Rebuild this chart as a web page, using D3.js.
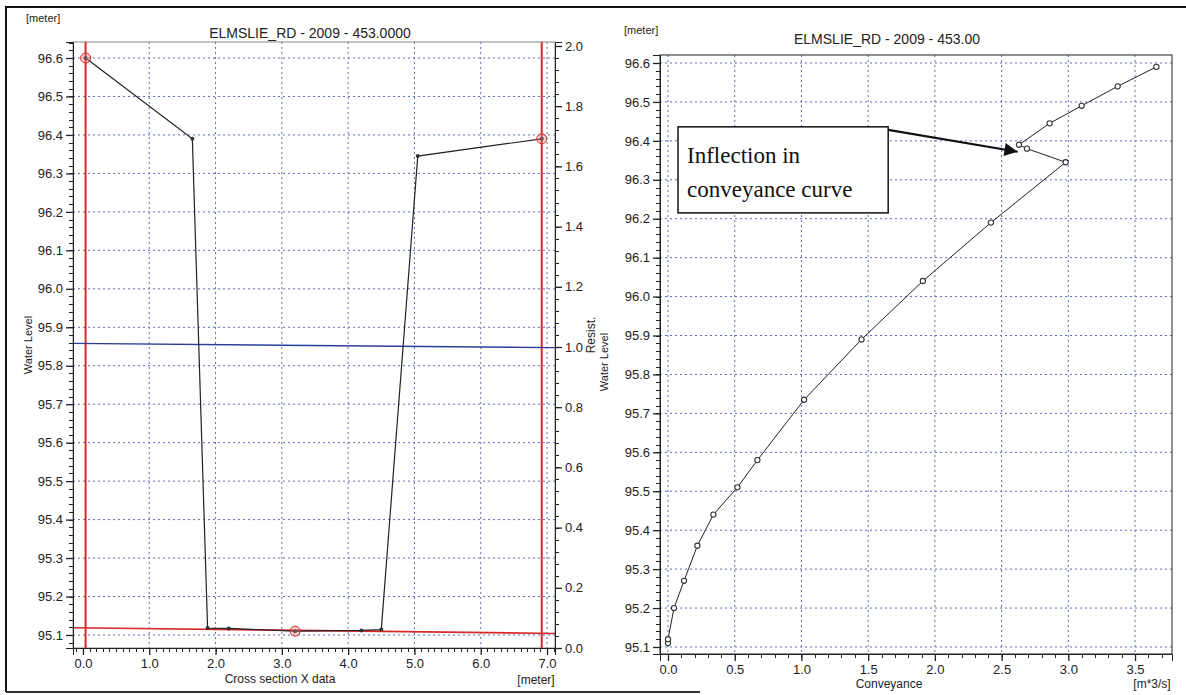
<!DOCTYPE html>
<html>
<head>
<meta charset="utf-8">
<script src="https://cdn.jsdelivr.net/npm/d3@7"></script>
<style>
  body { margin: 0; background: #fff; }
  text { font-family: "Liberation Sans Narrow", "Liberation Sans", Arial, sans-serif; fill: #222; }
  .tick text { font-size: 13px; }
  .serif { font-family: "Liberation Serif", "Times New Roman", serif; fill: #111; }
</style>
</head>
<body>
<div id="chart"></div>
<script>
// ---- left chart: cross section ----
var secX = [0.04, 1.65, 1.88, 2.2, 3.2, 4.2, 4.5, 5.05, 6.92]
var secLevel = [96.60, 96.39, 95.118, 95.117, 95.11, 95.112, 95.114, 96.345, 96.39]
var markX = [0.04, 3.2, 6.92]
var markLevel = [96.60, 95.11, 96.39]
var bedX = [-0.15, 7.12]
var bedLevel = [95.119, 95.104]
var resistX = [-0.15, 7.12]
var resistVal = [1.012, 0.998]
var secXTicks = [0, 1, 2, 3, 4, 5, 6, 7]
var levelTicks = [95.1, 95.2, 95.3, 95.4, 95.5, 95.6, 95.7, 95.8, 95.9, 96.0, 96.1, 96.2, 96.3, 96.4, 96.5, 96.6]
var resistTicks = [0, 0.2, 0.4, 0.6, 0.8, 1.0, 1.2, 1.4, 1.6, 1.8, 2.0]

// ---- right chart: conveyance ----
var convey = [0.0, 0.0, 0.045, 0.12, 0.22, 0.34, 0.52, 0.67, 1.02, 1.45, 1.91, 2.42, 2.98, 2.69, 2.63, 2.86, 3.10, 3.37, 3.66]
var convLevel = [95.11, 95.12, 95.20, 95.27, 95.36, 95.44, 95.51, 95.58, 95.735, 95.89, 96.04, 96.19, 96.345, 96.38, 96.39, 96.445, 96.49, 96.54, 96.59]
var convTicks = [0, 0.5, 1.0, 1.5, 2.0, 2.5, 3.0, 3.5]
var noteLines = ['Inflection in', 'conveyance curve']

var gridColor = '#5b6db3'
var fmt = d3.format('.1f')

var svg = d3.select('#chart').append('svg')
  .attr('width', 1186)
  .attr('height', 695)

// scanned page frame
svg.append('path')
  .attr('d', 'M6,692 L6,7 L1186,7')
  .attr('fill', 'none')
  .attr('stroke', '#111')
  .attr('stroke-width', 2)
svg.append('line')
  .attr('x1', 6).attr('x2', 700).attr('y1', 692).attr('y2', 692)
  .attr('stroke', '#333').attr('stroke-width', 2)

// small helper for minor ticks
function minorTicks(g, scale, vals, orient, len) {
  g.selectAll('.minor').data(vals).enter().append('line')
    .attr('class', 'minor')
    .attr('stroke', '#222')
    .each(function (d) {
      var p = Math.round(scale(d)) + 0.5
      var el = d3.select(this)
      if (orient == 'left') el.attr('x1', 0).attr('x2', -len).attr('y1', p).attr('y2', p)
      if (orient == 'right') el.attr('x1', 0).attr('x2', len).attr('y1', p).attr('y2', p)
      if (orient == 'bottom') el.attr('x1', p).attr('x2', p).attr('y1', 0).attr('y2', len)
    })
}

function range100(a, b, step) {
  return d3.range(Math.round(a * 100), Math.round(b * 100) + 1, step).map(function (v) { return v / 100 })
}

function styleAxis(g) {
  g.selectAll('.domain').attr('stroke', '#222')
  g.selectAll('.tick line').attr('stroke', '#222').attr('stroke-width', 1.3)
}

// ================= LEFT =================
var L = { left: 73, right: 555, top: 42, bottom: 648 }
var x1 = d3.scaleLinear().domain([-0.15, 7.12]).range([L.left, L.right])
var y1 = d3.scaleLinear().domain([95.0662, 96.6416]).range([L.bottom, L.top])
var r1 = d3.scaleLinear().domain([0, 2.0133]).range([L.bottom, L.top])

var gL = svg.append('g')

// grid
gL.selectAll('.hgrid').data(levelTicks).enter().append('line')
  .attr('x1', L.left).attr('x2', L.right)
  .attr('y1', function (d) { return y1(d) }).attr('y2', function (d) { return y1(d) })
  .attr('stroke', gridColor).attr('stroke-dasharray', '2,3')
gL.selectAll('.vgrid').data(secXTicks.slice(1)).enter().append('line')
  .attr('x1', function (d) { return x1(d) }).attr('x2', function (d) { return x1(d) })
  .attr('y1', L.top).attr('y2', L.bottom)
  .attr('stroke', gridColor).attr('stroke-dasharray', '2,3')

gL.append('rect')
  .attr('x', L.left).attr('y', L.top)
  .attr('width', L.right - L.left).attr('height', L.bottom - L.top)
  .attr('fill', 'none').attr('stroke', '#888')

// red marker lines
gL.selectAll('.redv').data([markX[0], markX[2]]).enter().append('line')
  .attr('x1', function (d) { return x1(d) }).attr('x2', function (d) { return x1(d) })
  .attr('y1', L.top).attr('y2', L.bottom)
  .attr('stroke', '#d62a2a').attr('stroke-width', 2)
gL.append('line')
  .attr('x1', x1(bedX[0])).attr('x2', x1(bedX[1]))
  .attr('y1', y1(bedLevel[0])).attr('y2', y1(bedLevel[1]))
  .attr('stroke', '#d62a2a').attr('stroke-width', 1.6)

// resistance line
gL.append('line')
  .attr('x1', x1(resistX[0])).attr('x2', x1(resistX[1]))
  .attr('y1', r1(resistVal[0])).attr('y2', r1(resistVal[1]))
  .attr('stroke', '#2a3f9a').attr('stroke-width', 1.4)

// cross section line
var secPts = secX.map(function (d, i) { return [d, secLevel[i]] })
var secLine = d3.line()
  .x(function (d) { return x1(d[0]) })
  .y(function (d) { return y1(d[1]) })
gL.append('path')
  .datum(secPts)
  .attr('d', secLine)
  .attr('fill', 'none')
  .attr('stroke', '#222')
  .attr('stroke-width', 1.2)
gL.selectAll('.dot').data(secPts).enter().append('circle')
  .attr('cx', function (d) { return x1(d[0]) })
  .attr('cy', function (d) { return y1(d[1]) })
  .attr('r', 2)
  .attr('fill', '#333')

// red circle markers
gL.selectAll('.mark').data(markX).enter().append('circle')
  .attr('cx', function (d) { return x1(d) })
  .attr('cy', function (d, i) { return y1(markLevel[i]) })
  .attr('r', 5)
  .attr('fill', 'rgba(230,120,120,0.35)')
  .attr('stroke', '#d62a2a')

// axes
var axL = gL.append('g').attr('transform', 'translate(' + L.left + ',0)')
  .call(d3.axisLeft(y1).tickValues(levelTicks).tickFormat(fmt).tickSize(7).tickPadding(3))
minorTicks(axL, y1, range100(95.08, 96.64, 2), 'left', 4)
styleAxis(axL)

var axR = gL.append('g').attr('transform', 'translate(' + L.right + ',0)')
  .call(d3.axisRight(r1).tickValues(resistTicks).tickFormat(fmt).tickSize(7).tickPadding(3))
minorTicks(axR, r1, range100(0, 2.0, 4), 'right', 4)
styleAxis(axR)

var axB = gL.append('g').attr('transform', 'translate(0,' + L.bottom + ')')
  .call(d3.axisBottom(x1).tickValues(secXTicks).tickFormat(fmt).tickSize(7).tickPadding(4))
minorTicks(axB, x1, range100(-0.1, 7.1, 10), 'bottom', 4)
styleAxis(axB)

gL.append('text').attr('x', 310).attr('y', 38).attr('text-anchor', 'middle')
  .style('font-size', '14px').text('ELMSLIE_RD - 2009 - 453.0000')
gL.append('text').attr('x', 26).attr('y', 22).style('font-size', '11px').text('[meter]')
gL.append('text').attr('x', 280).attr('y', 683).attr('text-anchor', 'middle')
  .style('font-size', '12px').text('Cross section X data')
gL.append('text').attr('x', 536).attr('y', 684).attr('text-anchor', 'middle')
  .style('font-size', '12px').text('[meter]')
gL.append('text').attr('transform', 'translate(32,345) rotate(-90)').attr('text-anchor', 'middle')
  .style('font-size', '11px').text('Water Level')
gL.append('text').attr('transform', 'translate(595,335) rotate(-90)').attr('text-anchor', 'middle')
  .style('font-size', '12px').text('Resist.')

// ================= RIGHT =================
var R = { left: 660, right: 1172, top: 55, bottom: 654 }
var x2 = d3.scaleLinear().domain([-0.06, 3.777]).range([R.left, R.right])
var y2 = d3.scaleLinear().domain([95.082, 96.6205]).range([R.bottom, R.top])

var gR = svg.append('g')

gR.selectAll('.hgrid').data(levelTicks).enter().append('line')
  .attr('x1', R.left).attr('x2', R.right)
  .attr('y1', function (d) { return y2(d) }).attr('y2', function (d) { return y2(d) })
  .attr('stroke', gridColor).attr('stroke-dasharray', '2,3')
gR.selectAll('.vgrid').data(convTicks).enter().append('line')
  .attr('x1', function (d) { return x2(d) }).attr('x2', function (d) { return x2(d) })
  .attr('y1', R.top).attr('y2', R.bottom)
  .attr('stroke', gridColor).attr('stroke-dasharray', '2,3')

gR.append('rect')
  .attr('x', R.left).attr('y', R.top)
  .attr('width', R.right - R.left).attr('height', R.bottom - R.top)
  .attr('fill', 'none').attr('stroke', '#222')

var convPts = convey.map(function (d, i) { return [d, convLevel[i]] })
var convLine = d3.line()
  .x(function (d) { return x2(d[0]) })
  .y(function (d) { return y2(d[1]) })
gR.append('path')
  .datum(convPts)
  .attr('d', convLine)
  .attr('fill', 'none')
  .attr('stroke', '#222')
  .attr('stroke-width', 1)
gR.selectAll('.pt').data(convPts).enter().append('circle')
  .attr('cx', function (d) { return x2(d[0]) })
  .attr('cy', function (d) { return y2(d[1]) })
  .attr('r', 2.6)
  .attr('fill', '#fff')
  .attr('stroke', '#333')
  .attr('stroke-width', 1.1)

var axL2 = gR.append('g').attr('transform', 'translate(' + R.left + ',0)')
  .call(d3.axisLeft(y2).tickValues(levelTicks).tickFormat(fmt).tickSize(7).tickPadding(3))
minorTicks(axL2, y2, range100(95.1, 96.62, 2), 'left', 4)
styleAxis(axL2)

var axB2 = gR.append('g').attr('transform', 'translate(0,' + R.bottom + ')')
  .call(d3.axisBottom(x2).tickValues(convTicks).tickFormat(fmt).tickSize(7).tickPadding(4))
minorTicks(axB2, x2, range100(0, 3.7, 10), 'bottom', 4)
styleAxis(axB2)

gR.append('text').attr('x', 887).attr('y', 44).attr('text-anchor', 'middle')
  .style('font-size', '14px').text('ELMSLIE_RD - 2009 - 453.00')
gR.append('text').attr('x', 624).attr('y', 34).style('font-size', '11px').text('[meter]')
gR.append('text').attr('x', 889).attr('y', 688).attr('text-anchor', 'middle')
  .style('font-size', '12px').text('Conveyance')
gR.append('text').attr('x', 1152).attr('y', 688).attr('text-anchor', 'middle')
  .style('font-size', '12px').text('[m*3/s]')
gR.append('text').attr('transform', 'translate(608,362) rotate(-90)').attr('text-anchor', 'middle')
  .style('font-size', '11px').text('Water Level')

// annotation box + arrow (in data units)
var boxX = [0.075, 1.65]
var boxLevel = [96.436, 96.215]
var arrowFrom = [1.65, 96.428]
var arrowTo = [2.62, 96.372]

gR.append('rect')
  .attr('x', x2(boxX[0])).attr('y', y2(boxLevel[0]))
  .attr('width', x2(boxX[1]) - x2(boxX[0]))
  .attr('height', y2(boxLevel[1]) - y2(boxLevel[0]))
  .attr('fill', '#fff').attr('stroke', '#111').attr('stroke-width', 1.5)
gR.selectAll('.note').data(noteLines).enter().append('text')
  .attr('class', 'serif')
  .attr('x', x2(boxX[0]) + 9)
  .attr('y', function (d, i) { return y2(boxLevel[0]) + 36 + i * 34 })
  .style('font-size', '23px')
  .text(function (d) { return d })

svg.append('defs').append('marker')
  .attr('id', 'arr')
  .attr('viewBox', '0 0 10 10')
  .attr('refX', 10).attr('refY', 5)
  .attr('markerWidth', 7).attr('markerHeight', 6)
  .attr('markerUnits', 'strokeWidth')
  .attr('orient', 'auto')
  .append('path').attr('d', 'M0,0 L10,5 L0,10 Z').attr('fill', '#111')
gR.append('line')
  .attr('x1', x2(arrowFrom[0])).attr('y1', y2(arrowFrom[1]))
  .attr('x2', x2(arrowTo[0])).attr('y2', y2(arrowTo[1]))
  .attr('stroke', '#111').attr('stroke-width', 2.2)
  .attr('marker-end', 'url(#arr)')
</script>
</body>
</html>
